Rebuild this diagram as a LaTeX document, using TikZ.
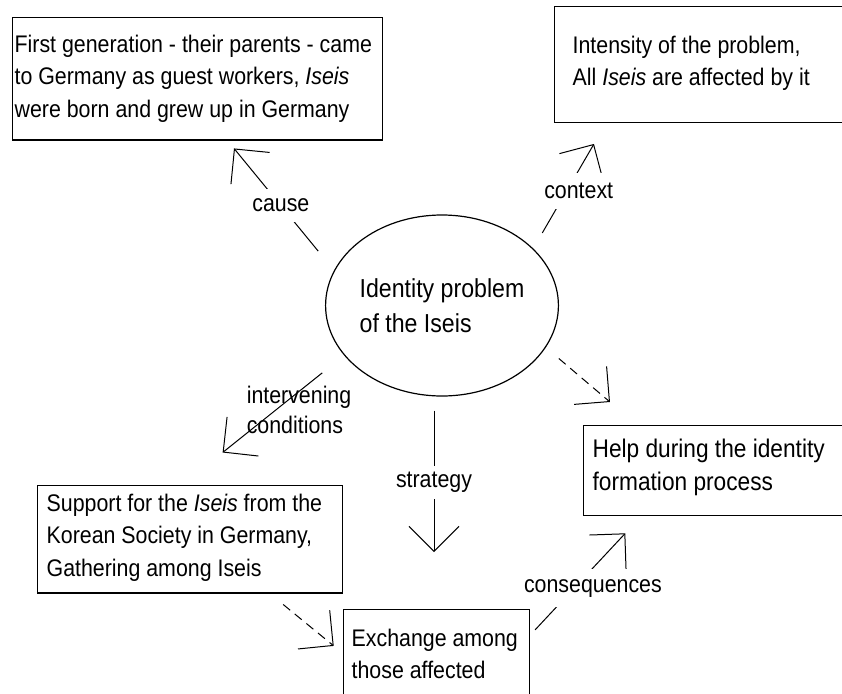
\documentclass[tikz,border=0pt]{standalone}
\usepackage{fontspec}
\setmainfont[FakeStretch=0.89]{Liberation Sans}
\usepackage{tikz}
\usetikzlibrary{arrows.meta,shapes.geometric,positioning,calc}

\tikzset{
  box/.style={draw, line width=1.3pt, anchor=north west, align=flush left},
  conn/.style={line width=1pt, -{Straight Barb[length=25pt,width=50pt]}},
  dconn/.style={conn, dash pattern=on 9pt off 6pt},
  lbl/.style={fill=white, inner xsep=4pt, inner ysep=10pt},
}

\begin{document}
\begin{tikzpicture}[x=1pt, y=-1pt, font=\fontsize{24}{32.5}\selectfont]
  \useasboundingbox (0,0) rectangle (842,693);

  % phenomenon
  \node[ellipse, draw, line width=1.2pt, minimum width=228pt, minimum height=181pt, inner sep=0pt,
        align=flush left, font=\fontsize{26}{35}\selectfont] (ident) at (442,305.5) {Identity problem\\of the Iseis};

  % boxes
  \node[box, inner xsep=2pt, inner ysep=17pt, text width=366pt] (cause) at (12,17)
    {First generation - their parents - came\\to Germany as guest workers, \textit{Iseis}\\were born and grew up in Germany\rule[-6pt]{0pt}{6pt}};
  \node[box, inner xsep=18pt, inner ysep=29pt, text width=262pt] (context) at (554,6)
    {Intensity of the problem,\\All \textit{Iseis} are affected by it\rule[-8pt]{0pt}{8pt}};
  \node[box, inner xsep=9pt, inner ysep=13pt, text width=250pt, font=\fontsize{25.5}{33}\selectfont] (help) at (583,425)
    {Help during the identity\\formation process\rule[-12.7pt]{0pt}{12.7pt}};
  \node[box, inner xsep=9pt, inner ysep=8pt, text width=287pt] (support) at (37,485)
    {Support for the \textit{Iseis} from the\\Korean Society in Germany,\\Gathering among Iseis\rule[-9pt]{0pt}{9pt}};
  \node[box, inner xsep=8pt, inner ysep=19pt, text width=170pt] (exchange) at (343,609)
    {Exchange among\\those affected\rule[-40pt]{0pt}{40pt}};

  % arrows from the phenomenon
  \draw[conn, shorten <=25pt, shorten >=10pt] (ident.162.5)
    -- node[lbl] (lcause) {cause} ([xshift=30pt]cause.south);
  \draw[conn, shorten <=18pt, shorten >=24pt] (ident.32.6)
    -- node[lbl, pos=0.46, xshift=12pt] (lcontext) {context} ([xshift=52pt]context.south west);
  \draw[dconn, shorten <=17pt, shorten >=35.5pt] (ident.338.3) -- ([xshift=54pt]help.north west);
  \draw[conn, shorten <=14pt, shorten >=57pt] ([xshift=-8pt]ident.south)
    -- node[lbl, pos=0.404, inner ysep=6pt] (lstrategy) {strategy} ([xshift=91pt]exchange.north west);
  \draw[conn, shorten <=28pt, shorten >=52pt] (ident.207.9)
    -- node[pos=0.42, xshift=23pt, align=flush left] (linterv) {intervening\\[-3pt]conditions} ([xshift=145pt]support.north west);

  % lower part
  \draw[dconn, shorten <=17pt, shorten >=12pt] ([xshift=233pt]support.south west) -- ([yshift=-44.5pt]exchange.north west);
  \draw[conn, shorten <=7pt, shorten >=23pt] ([yshift=-26pt]exchange.north east)
    -- node[lbl, pos=0.394, xshift=19pt] (lcons) {consequences} ([xshift=58pt]help.south west);
\end{tikzpicture}
\end{document}
